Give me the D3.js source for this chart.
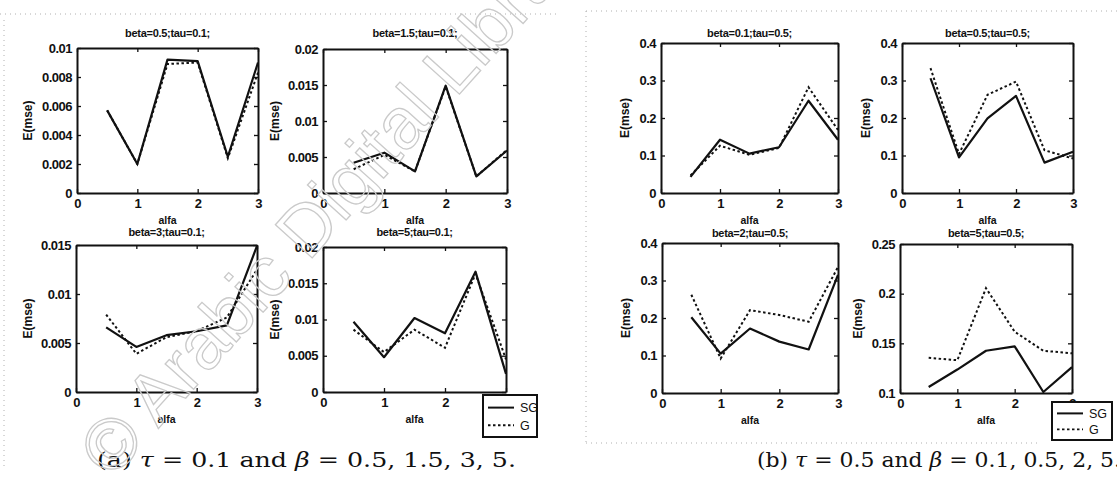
<!DOCTYPE html>
<html>
<head>
<meta charset="utf-8">
<script src="https://cdn.jsdelivr.net/npm/d3@7"></script>
<style>
    body { margin: 0; background: #fff; }
    svg { display: block; }
</style>
</head>
<body>
<svg id="chart" width="1117" height="477"></svg>
<script>
// Values
var alfa = [0.5, 1, 1.5, 2, 2.5, 3];
var xTickValues = [0, 1, 2, 3];
var seriesNames = ["SG", "G"];

var titles = [
    "beta=0.5;tau=0.1;", "beta=1.5;tau=0.1;", "beta=3;tau=0.1;", "beta=5;tau=0.1;",
    "beta=0.1;tau=0.5;", "beta=0.5;tau=0.5;", "beta=2;tau=0.5;", "beta=5;tau=0.5;"
];

var sgValues = [
    [0.0057, 0.0020, 0.0092, 0.0091, 0.0025, 0.0090],
    [0.0042, 0.0056, 0.0030, 0.0149, 0.0023, 0.0059],
    [0.0066, 0.0046, 0.0058, 0.0062, 0.0068, 0.0149],
    [0.0097, 0.0048, 0.0102, 0.0081, 0.0166, 0.0025],
    [0.043, 0.142, 0.105, 0.122, 0.246, 0.142],
    [0.306, 0.095, 0.199, 0.259, 0.081, 0.110],
    [0.202, 0.105, 0.172, 0.137, 0.116, 0.315],
    [0.106, 0.1236, 0.1425, 0.147, 0.101, 0.126]
];

var gValues = [
    [0.0057, 0.0020, 0.0089, 0.0090, 0.0024, 0.0083],
    [0.0033, 0.0053, 0.0030, 0.0148, 0.0023, 0.0060],
    [0.0079, 0.0039, 0.0056, 0.0062, 0.0076, 0.0125],
    [0.0086, 0.0055, 0.0086, 0.0061, 0.0163, 0.0045],
    [0.047, 0.126, 0.102, 0.120, 0.282, 0.168],
    [0.333, 0.104, 0.262, 0.297, 0.114, 0.092],
    [0.262, 0.092, 0.221, 0.208, 0.190, 0.336],
    [0.1354, 0.133, 0.2055, 0.1617, 0.1425, 0.140]
];

var yTickValues = [
    [0, 0.002, 0.004, 0.006, 0.008, 0.01],
    [0, 0.005, 0.01, 0.015, 0.02],
    [0, 0.005, 0.01, 0.015],
    [0, 0.005, 0.01, 0.015, 0.02],
    [0, 0.1, 0.2, 0.3, 0.4],
    [0, 0.1, 0.2, 0.3, 0.4],
    [0, 0.1, 0.2, 0.3, 0.4],
    [0.1, 0.15, 0.2, 0.25]
];

// Box of every subplot in the page (left, right, top, bottom) and title baseline
var layout = [
    { x0: 77, x1: 258, y0: 48, y1: 193, ty: 37 },
    { x0: 323, x1: 507, y0: 49, y1: 193, ty: 37 },
    { x0: 76, x1: 257, y0: 245, y1: 392, ty: 236 },
    { x0: 323, x1: 506, y0: 247, y1: 392, ty: 236 },
    { x0: 661, x1: 838, y0: 43, y1: 193, ty: 37 },
    { x0: 902, x1: 1073, y0: 43, y1: 193, ty: 37 },
    { x0: 662, x1: 838, y0: 243, y1: 393, ty: 237 },
    { x0: 900, x1: 1072, y0: 244, y1: 393, ty: 237 }
];

// Legend boxes only on the last panel of each group
var legendBoxes = { 3: { x: 483, y: 395, w: 54, h: 42 }, 7: { x: 1052, y: 402, w: 60, h: 38 } };

var svg = d3.select("#chart");
var font = "'Liberation Sans', Arial, sans-serif";

// faint dotted borders left by the scan
var scanLines = [
    [0, 14, 560, 14], [4, 20, 4, 470], [586, 11, 1117, 11], [586, 11, 586, 442], [586, 443, 1040, 443]
];
svg.selectAll(".scan")
    .data(scanLines)
    .enter().append("line")
    .attr("x1", d => d[0]).attr("y1", d => d[1])
    .attr("x2", d => d[2]).attr("y2", d => d[3])
    .attr("stroke", "#b0b0b0")
    .attr("stroke-width", 1)
    .attr("stroke-dasharray", "1,4");

function styleAxis(sel, withText) {
    sel.attr("font-family", font).attr("font-size", 13).attr("font-weight", "bold");
    sel.select(".domain").attr("stroke", "#111").attr("stroke-width", 2);
    sel.selectAll(".tick line").attr("stroke", "#111").attr("stroke-width", 1.3);
    if (!withText) sel.selectAll(".tick text").remove();
    sel.selectAll(".tick text").attr("fill", "#111").attr("letter-spacing", "-0.5");
}

layout.forEach(function (b, i) {
    var g = svg.append("g");
    var yt = yTickValues[i];

    var xScale = d3.scaleLinear().domain([0, 3]).range([b.x0, b.x1]);
    var yScale = d3.scaleLinear().domain([yt[0], yt[yt.length - 1]]).range([b.y1, b.y0]);

    // white plot area
    g.append("rect")
        .attr("x", b.x0).attr("y", b.y0)
        .attr("width", b.x1 - b.x0).attr("height", b.y1 - b.y0)
        .attr("fill", "#fff");

    // lines
    var line = d3.line()
        .x((d, k) => xScale(alfa[k]))
        .y(d => yScale(d));

    g.append("path")
        .datum(gValues[i])
        .attr("d", line)
        .attr("fill", "none")
        .attr("stroke", "#111")
        .attr("stroke-width", 2)
        .attr("stroke-dasharray", "2.5,2.5");

    g.append("path")
        .datum(sgValues[i])
        .attr("d", line)
        .attr("fill", "none")
        .attr("stroke", "#111")
        .attr("stroke-width", 2.2)
        .attr("stroke-linejoin", "round");

    // axes, ticks pointing inward on all four sides
    var left = g.append("g")
        .attr("transform", "translate(" + b.x0 + ",0)")
        .call(d3.axisLeft(yScale).tickValues(yt).tickSize(-4).tickSizeOuter(0).tickPadding(5).tickFormat(d3.format("~g")));
    styleAxis(left, true);

    g.append("g")
        .attr("transform", "translate(" + b.x1 + ",0)")
        .call(d3.axisRight(yScale).tickValues(yt).tickSize(-4).tickSizeOuter(0))
        .call(s => styleAxis(s, false));

    g.append("g")
        .attr("transform", "translate(0," + b.y0 + ")")
        .call(d3.axisTop(xScale).tickValues(xTickValues).tickSize(-4).tickSizeOuter(0))
        .call(s => styleAxis(s, false));

    g.append("g")
        .attr("transform", "translate(0," + b.y1 + ")")
        .call(d3.axisBottom(xScale).tickValues(xTickValues).tickSize(-4).tickSizeOuter(0).tickPadding(6).tickFormat(d3.format("d")))
        .call(s => styleAxis(s, true));

    // title
    g.append("text")
        .attr("x", (b.x0 + b.x1) / 2)
        .attr("y", b.ty)
        .attr("text-anchor", "middle")
        .attr("font-family", font)
        .attr("font-size", 11)
        .attr("font-weight", "bold")
        .attr("letter-spacing", "-0.3")
        .attr("fill", "#111")
        .text(titles[i]);

    // x label
    g.append("text")
        .attr("x", (b.x0 + b.x1) / 2)
        .attr("y", b.y1 + 31)
        .attr("text-anchor", "middle")
        .attr("font-family", font)
        .attr("font-size", 10.5)
        .attr("font-weight", "bold")
        .attr("fill", "#111")
        .text("alfa");

    // y label, placed left of the widest tick label
    var maxW = d3.max(left.selectAll(".tick text").nodes(), n => n.getBBox().width);
    var lx = b.x0 - 5 - maxW - 9;
    g.append("text")
        .attr("transform", "translate(" + lx + "," + (b.y0 + b.y1) / 2 + ") rotate(-90)")
        .attr("text-anchor", "middle")
        .attr("font-family", font)
        .attr("font-size", 12)
        .attr("font-weight", "bold")
        .attr("fill", "#111")
        .text("E(mse)");

    // legend
    var lb = legendBoxes[i];
    if (lb) {
        var leg = svg.append("g");
        leg.append("rect")
            .attr("x", lb.x).attr("y", lb.y)
            .attr("width", lb.w).attr("height", lb.h)
            .attr("fill", "#fff")
            .attr("stroke", "#111")
            .attr("stroke-width", 2);
        seriesNames.forEach(function (name, k) {
            var ly = lb.y + lb.h * (k === 0 ? 0.3 : 0.72);
            leg.append("line")
                .attr("x1", lb.x + 5).attr("x2", lb.x + 31)
                .attr("y1", ly).attr("y2", ly)
                .attr("stroke", "#111")
                .attr("stroke-width", k === 0 ? 2 : 1.8)
                .attr("stroke-dasharray", k === 0 ? null : "2.5,2.5");
            leg.append("text")
                .attr("x", lb.x + 37)
                .attr("y", ly + 4.5)
                .attr("font-family", font)
                .attr("font-size", 12.5)
                .attr("fill", "#111")
                .text(name);
        });
    }
});

// sub-captions
var captions = [
    { x: 97, len: 419, label: "(a) ", tau: "0.1", betas: "0.5, 1.5, 3, 5." },
    { x: 757, len: 364, label: "(b) ", tau: "0.5", betas: "0.1, 0.5, 2, 5." }
];
captions.forEach(function (c) {
    var t = svg.append("text")
        .attr("x", c.x)
        .attr("y", 467)
        .attr("font-family", "'DejaVu Serif', serif")
        .attr("font-size", 20)
        .attr("fill", "#111")
        .attr("textLength", c.len)
        .attr("lengthAdjust", "spacingAndGlyphs");
    t.append("tspan").text(c.label);
    t.append("tspan").attr("font-style", "italic").text("τ");
    t.append("tspan").text(" = " + c.tau + " and ");
    t.append("tspan").attr("font-style", "italic").text("β");
    t.append("tspan").text(" = " + c.betas);
});

// watermark on top
svg.append("text")
    .attr("transform", "translate(112,480) rotate(-48)")
    .attr("font-family", font)
    .attr("font-size", 72)
    .attr("fill", "none")
    .attr("stroke", "#cacaca")
    .attr("stroke-width", 1.3)
    .text("© Arabic Digital Library");
</script>
</body>
</html>
